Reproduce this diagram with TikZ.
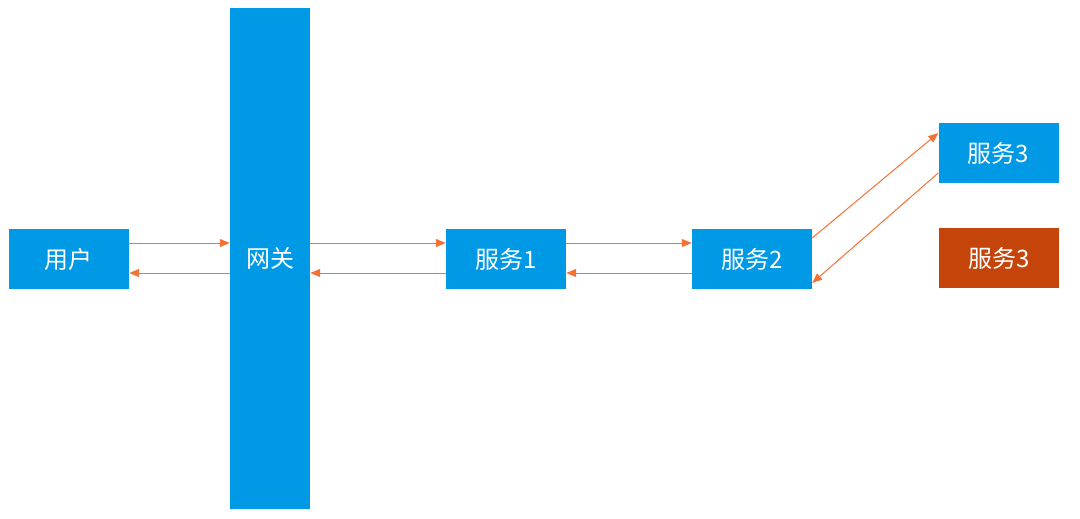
\documentclass[tikz,border=0pt]{standalone}
\usepackage{fontspec}
\setmainfont{Noto Sans CJK SC}
\usetikzlibrary{arrows.meta}
\definecolor{boxblue}{RGB}{0,153,229}
\definecolor{boxred}{RGB}{197,68,10}
\definecolor{arr}{RGB}{244,114,52}
\tikzset{
  box/.style={fill=boxblue, draw=none, text=white, inner sep=0pt, font=\fontsize{24}{28}\selectfont, minimum width=120pt, minimum height=60pt},
  conn/.style={draw=arr, line width=1pt, -{Triangle[length=10pt,width=8pt]}}
}
\begin{document}
\begin{tikzpicture}[x=1pt,y=-1pt]
\useasboundingbox (0,0) rectangle (1080,519);
\node[box] (u) at (69,259) {用户};
\node[box, minimum width=80pt, minimum height=501pt] (g) at (270,258.5) {网关};
\node[box] (s1) at (506,259) {服务1};
\node[box] (s2) at (752,259) {服务2};
\node[box] (s3) at (998.5,153) {服务3};
\node[box, fill=boxred] (s3b) at (999,258) {服务3};
\draw[conn] ([yshift=16pt]u.east) -- ([yshift=16pt]u.east -| g.west);
\draw[conn] ([yshift=-14pt]u.east -| g.west) -- ([yshift=-14pt]u.east);
\draw[conn] ([yshift=16pt]s1.west -| g.east) -- ([yshift=16pt]s1.west);
\draw[conn] ([yshift=-14pt]s1.west) -- ([yshift=-14pt]s1.west -| g.east);
\draw[conn] ([yshift=16pt]s1.east) -- ([yshift=16pt]s2.west);
\draw[conn] ([yshift=-14pt]s2.west) -- ([yshift=-14pt]s1.east);
\draw[conn] ([yshift=21pt]s2.east) -- ([yshift=20pt]s3.west);
\draw[conn] ([yshift=-20pt]s3.west) -- ([yshift=-24pt]s2.east);
\end{tikzpicture}
\end{document}
